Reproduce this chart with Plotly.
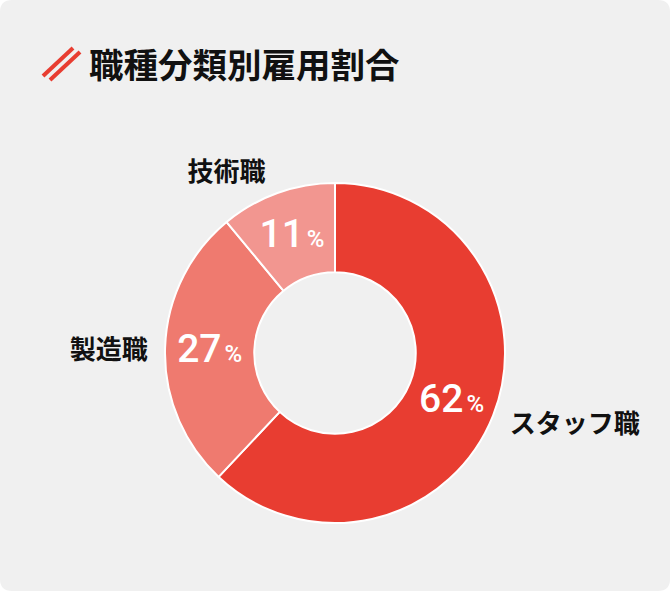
import plotly.graph_objects as go

# ---- data ----
categories = ["スタッフ職", "製造職", "技術職"]
shares = [62, 27, 11]
slice_colors = ["#E83D31", "#EF7A6F", "#F29690"]
title_text = "職種分類別雇用割合"

W, H = 670, 591
BG = "#F0F0F0"
RED = "#E83D31"

cx, cy, R = 335, 353, 170  # pixel geometry of the donut


def dom(cx, cy, r):
    return dict(x=[max(0, (cx - r) / W), min(1, (cx + r) / W)],
                y=[max(0, 1 - (cy + r) / H), min(1, 1 - (cy - r) / H)])


pct_text = [f"{v}<span style='font-size:12px'> </span><span style='font-size:24px'>%</span>" for v in shares]

fig = go.Figure()

fig.add_trace(go.Pie(
    labels=categories, values=shares, sort=False, direction="clockwise", rotation=0,
    hole=0.475, domain=dom(cx, cy, R),
    marker=dict(colors=slice_colors, line=dict(color="white", width=2)),
    text=pct_text, texttemplate="%{text}", textposition="inside",
    insidetextorientation="horizontal",
    textfont=dict(family="Roboto", size=39, color="white", weight=500),
    hoverinfo="skip", showlegend=False,
))

RL = R + 8
fig.add_trace(go.Pie(
    labels=categories, values=shares, sort=False, direction="clockwise", rotation=0,
    hole=0.97, domain=dom(cx, cy, RL),
    marker=dict(colors=["rgba(0,0,0,0)"] * 3, line=dict(width=0)),
    texttemplate="%{label}", textposition="outside",
    textfont=dict(family="Noto Sans CJK JP", size=26, color="#111111", weight="bold"),
    hoverinfo="skip", showlegend=False, automargin=False,
))

rx, ry = 12 / W, 12 / H
bg_path = (f"M {rx},0 L {1-rx},0 Q 1,0 1,{ry} L 1,{1-ry} Q 1,1 {1-rx},1 "
           f"L {rx},1 Q 0,1 0,{1-ry} L 0,{ry} Q 0,0 {rx},0 Z")


def px(x, y):
    return x / W, 1 - y / H


shapes = [dict(type="path", path=bg_path, xref="paper", yref="paper",
               fillcolor=BG, line=dict(width=0), layer="below")]
for (x0, y0, x1, y1) in [(43, 76, 73, 48), (50, 80, 80, 52)]:
    a, b = px(x0, y0)
    c, d = px(x1, y1)
    shapes.append(dict(type="line", xref="paper", yref="paper", x0=a, y0=b, x1=c, y1=d,
                       line=dict(color=RED, width=4)))

fig.update_layout(
    width=W, height=H,
    margin=dict(l=0, r=0, t=0, b=0),
    paper_bgcolor="white", plot_bgcolor="white",
    shapes=shapes,
    title=dict(text=title_text, x=89 / W, xanchor="left", y=1 - 66 / H, yanchor="middle",
               font=dict(family="Noto Sans CJK JP", size=34.5, color="#111111", weight="bold")),
)

fix_page = ("document.body.style.margin='0';document.body.style.overflow='hidden';"
            "document.documentElement.style.overflow='hidden';")

fig.write_html("out.html", post_script=fix_page, config={"displayModeBar": False})
